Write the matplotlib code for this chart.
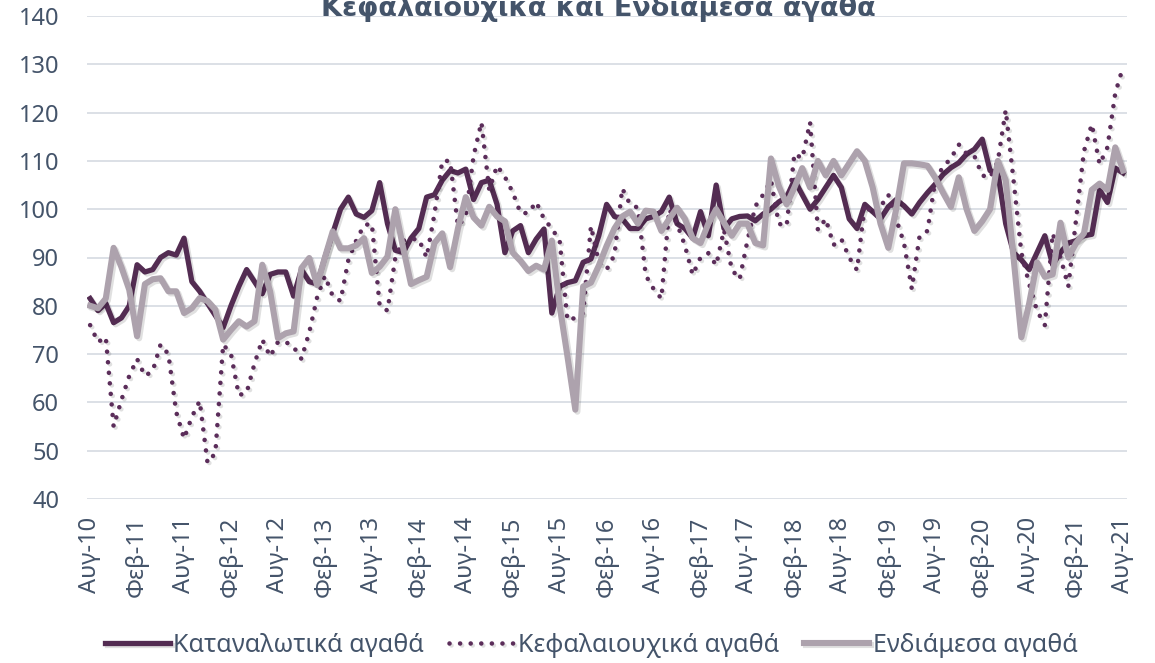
import matplotlib
matplotlib.use("Agg")
import matplotlib.pyplot as plt
import matplotlib.patheffects as pe

plt.rcParams['font.family'] = ['Noto Sans', 'DejaVu Sans']

# monthly index, Aug-10 ... Aug-21
tick_labels = ['Αυγ-10', 'Φεβ-11', 'Αυγ-11', 'Φεβ-12', 'Αυγ-12', 'Φεβ-13', 'Αυγ-13', 'Φεβ-14',
               'Αυγ-14', 'Φεβ-15', 'Αυγ-15', 'Φεβ-16', 'Αυγ-16', 'Φεβ-17', 'Αυγ-17', 'Φεβ-18',
               'Αυγ-18', 'Φεβ-19', 'Αυγ-19', 'Φεβ-20', 'Αυγ-20', 'Φεβ-21', 'Αυγ-21']

consumer = [81.5, 79, 80.5, 76.5, 77.5, 80, 88.5, 87, 87.5, 90, 91, 90.5, 94, 85, 83, 80.5,
            78, 75.5, 80, 84, 87.5, 85, 82.5, 86.5, 87, 87, 82, 87.5, 85, 84.5, 90, 95,
            100, 102.5, 99, 98.3, 99.7, 105.5, 97, 91.5, 91, 94, 96, 102.5, 103, 106, 108, 107.5,
            108.3, 102, 105.5, 106, 101, 91, 95.5, 96.6, 91, 93.8, 95.9, 78.5, 84, 84.8, 85.2, 89,
            89.7, 94.5, 101, 98.5, 98, 96, 96, 98, 98.5, 99.5, 102.5, 97, 96, 94, 99.5, 94.5,
            105, 96, 98, 98.5, 98.6, 97.6, 99, 100, 101.5, 102.5, 106, 103, 100, 102, 104.5, 107,
            104.5, 98, 96, 101, 99.5, 98, 100.5, 102, 100.7, 99, 101.4, 103.4, 105.2, 107.2, 108.6, 109.6,
            111.4, 112.4, 114.5, 108, 107.5, 97, 91, 89.5, 87.5, 91, 94.5, 88.5, 91, 93, 93.5, 94.5,
            94.8, 104, 101.4, 108.5, 107.5]

capital = [76, 72.5, 73.5, 55, 60.5, 65.5, 69, 65.5, 66.5, 72, 70, 58, 52.5, 57, 60.3, 47.5,
           49.5, 72, 70, 61.5, 62, 68, 73, 69.5, 72.5, 72.5, 71.5, 69, 74.5, 81.7, 86.2, 82,
           81, 89.5, 93.5, 96.7, 97, 80, 79, 90, 93.5, 93.8, 93.8, 90, 99, 110, 110, 96.5,
           98.5, 111, 118, 104, 109, 106.7, 103.5, 99.2, 99.2, 101.5, 98, 96, 93.5, 77, 77.5, 78.5,
           96.5, 89, 87.5, 90.5, 104.3, 101, 100.3, 86.3, 83.5, 81.5, 100, 97, 92.5, 86.4, 90, 90.9,
           88.4, 95.7, 87.5, 85.5, 93.5, 100.6, 103, 106, 97, 96.5, 111.5, 110.5, 118, 95.7, 98, 92.6,
           93.8, 90, 87.4, 101, 99, 100.5, 103, 98, 93, 83.5, 94.5, 95.5, 106, 108.8, 110.5, 113.4,
           111.5, 111, 107, 106.5, 110, 120.5, 106, 91, 84.5, 79, 76, 95, 90, 84, 98, 112,
           117.6, 109.3, 112.8, 124, 129.5]

intermediate = [80, 79.5, 81.5, 92, 88, 83.3, 73.7, 84.5, 85.5, 85.7, 83, 83, 78.5, 79.5, 81.6, 81,
                79.2, 73, 75, 76.8, 75.7, 76.8, 88.5, 83, 73.3, 74.3, 74.7, 87.8, 89.9, 84.3, 90, 95.4,
                91.9, 91.9, 92.5, 94, 86.8, 88.1, 90.2, 100, 92, 84.5, 85.3, 86, 93, 95, 88, 96,
                102.5, 98.3, 96.6, 100.5, 98.5, 97.5, 91, 89.3, 87.2, 88.3, 87.5, 93.5, 80, 69.5, 58.5, 84,
                84.8, 88.3, 92.4, 96, 98.5, 99.5, 97, 99.7, 99.5, 95.5, 98, 100.3, 98, 94, 93, 97,
                100, 97.2, 94.5, 97, 97, 93, 92.5, 110.5, 104.8, 101, 104.5, 108.5, 104.5, 110, 107, 110,
                107, 109.5, 112, 110, 104.5, 97, 92, 100, 109.5, 109.5, 109.3, 109, 106.5, 103.4, 100.5, 106.6,
                100, 95.5, 97.5, 100, 110, 106, 90, 73.5, 80.5, 89, 86, 86.5, 97.2, 90, 93, 95,
                104, 105.3, 104, 112.8, 108]

months = list(range(len(consumer)))
text_color = '#44546A'
shadow = [pe.SimpleLineShadow(offset=(1.5, -1.5), shadow_color='black', alpha=0.12), pe.Normal()]

fig = plt.figure(figsize=(11.55, 6.63), dpi=100)
ax = fig.add_axes([87 / 1155, 1 - 499 / 663, 1040 / 1155, 483 / 663])

ax.plot(months, consumer, color='#532C52', lw=3.8, solid_joinstyle='round',
        label='Καταναλωτικά αγαθά', path_effects=shadow)
ax.plot(months, capital, color='#5B2D5A', lw=3.3, linestyle=(0, (0.01, 2.3)),
        dash_capstyle='round', label='Κεφαλαιουχικά αγαθά', path_effects=shadow)
ax.plot(months, intermediate, color='#ADA2AD', lw=4.4, solid_joinstyle='round',
        label='Ενδιάμεσα αγαθά', path_effects=shadow)

ax.set_ylim(40, 140)
ax.set_yticks(range(40, 141, 10))
ax.set_xlim(-0.4, 132.5)
ax.set_xticks(range(0, 133, 6))
ax.set_xticklabels(tick_labels, rotation=90)
ax.tick_params(axis='both', length=0, labelsize=17, labelcolor=text_color)
ax.tick_params(axis='x', pad=13)
ax.tick_params(axis='y', pad=20)
ax.grid(axis='y', color='#DCE0E6', lw=1.4)
ax.set_axisbelow(True)
for s in ax.spines.values():
    s.set_visible(False)

fig.text(0.518, 1 - 16 / 663, 'Κεφαλαιουχικά και Ενδιάμεσα αγαθά', ha='center', va='baseline',
         fontsize=19.5, fontweight='bold', color=text_color, family='DejaVu Sans')

fig.legend(loc='center', bbox_to_anchor=(0.512, 0.027), ncol=3, frameon=False, fontsize=18,
           handlelength=2.6, handletextpad=0.15, columnspacing=1.0, labelcolor=text_color)

fig.savefig('out.png', dpi=100)
